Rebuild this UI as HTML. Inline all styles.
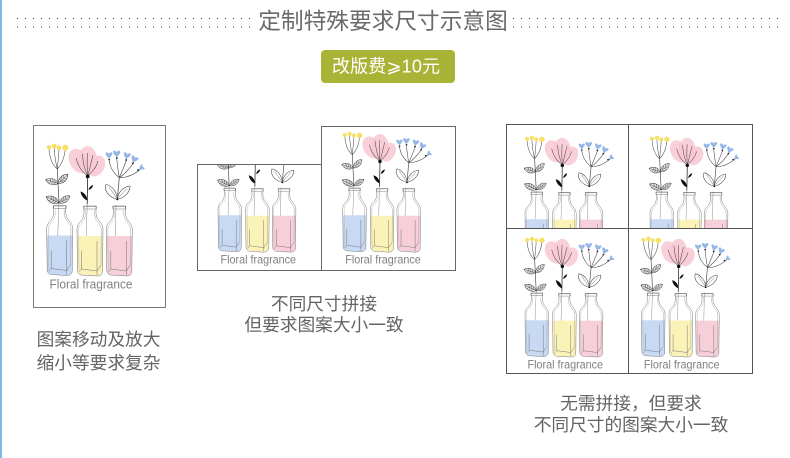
<!DOCTYPE html>
<html lang="zh">
<head>
<meta charset="utf-8">
<title>定制特殊要求尺寸示意图</title>
<style>
html,body{margin:0;padding:0;background:#fff;width:790px;height:458px;overflow:hidden}
svg{display:block}
.cap{font-family:"Liberation Sans","Noto Sans CJK SC",sans-serif;font-size:17.7px;fill:#646464;text-anchor:middle}
.lab{font-family:"Liberation Sans",sans-serif;font-size:13px;fill:#808080}
</style>
</head>
<body>
<svg width="790" height="458" viewBox="0 0 790 458" xmlns="http://www.w3.org/2000/svg">
<defs>
<filter id="soft" x="-5%" y="-5%" width="110%" height="110%"><feGaussianBlur stdDeviation=".28"/></filter>
<pattern id="dots" x="17" y="18" width="8" height="8.4" patternUnits="userSpaceOnUse"><rect width="1" height="1" fill="#333"/></pattern>
<path id="heart" d="M0 3 C-1 .6 -3.6 -.4 -3.4 -3 C-2.6 -4.2 -1 -3.6 0 -2.2 C1 -3.6 2.6 -4.2 3.4 -3 C3.6 -.4 1 .6 0 3Z" fill="#96b6e8"/>
<g id="leaf" fill="none" stroke="#333" stroke-width=".5">
<path d="M0 0C4 -4.2 10 -4.2 14 0C10 4.2 4 4.2 0 0Z" fill="#e4e4e4"/>
<path d="M0 0H14M3 0L5 -2.6M5.5 0L7.5 -3M8 0L10 -2.6M3 0L5 2.6M5.5 0L7.5 3M8 0L10 2.6" stroke-width=".4"/>
</g>
<g id="bottle">
<path d="M.2 31H25.8L25.5 66Q25 71 20 71L4 69.5Q1 69 .5 66Z"/>
<g fill="none" stroke="#707070" stroke-width=".5">
<path d="M7 1.5V9Q6.5 14 2 18Q0 20 0 24L.5 66Q1 69 4 70L20 71Q25 71 25.5 67L26 24Q26 20 23 17Q19.5 13.5 19 9V1.5Z"/>
<path d="M6.5 1H19.5V4H6.5Z"/>
<path d="M8.5 5V10Q8 15 3.5 19Q1.6 21 1.6 24.5L2 65" stroke="#b5b5b5"/>
<path d="M17.5 5V10Q18 14 21.5 18Q24 20.5 24.2 24L24 60" stroke="#a0a0a0"/>
<path d="M4.5 46V64L20 66L24 60M4.5 64L2 67M20 66L20 70"/>
<path d="M20 36V66"/>
</g>
</g>
<g id="art" filter="url(#soft)">
<!-- yellow flower -->
<g fill="none" stroke="#444" stroke-width=".55">
<path d="M57.3 169C52 165 49 156 49 147.3M57.3 169C55 160 54.3 152 54.3 146M57.3 169C58 160 59 154 59 147.7M57.3 169C62 164 65 156 65.3 147.7"/>
<path d="M57.3 169L59 203" stroke-width=".7"/>
<path d="M59 203L57.3 248" stroke="#888" stroke-width=".5"/>
</g>
<g fill="#f6e067"><circle cx="49" cy="147.3" r="2.3"/><circle cx="54.3" cy="146" r="2.4"/><circle cx="59" cy="147.7" r="2.3"/><circle cx="65.3" cy="147.7" r="3"/></g>
<use href="#leaf" transform="translate(58.3 183.5) rotate(197) scale(.95)"/>
<use href="#leaf" transform="translate(58.3 183.5) rotate(-44) scale(.95)"/>
<use href="#leaf" transform="translate(59 203) rotate(206) scale(1.02)"/>
<use href="#leaf" transform="translate(59.5 203) rotate(-34) scale(.9)"/>
<!-- pink flower -->
<g fill="#f8c8d4" fill-opacity=".85">
<ellipse cx="78.5" cy="161" rx="9" ry="13" transform="rotate(-28 78.5 161)"/>
<ellipse cx="87.5" cy="160" rx="9.5" ry="14"/>
<ellipse cx="96.5" cy="166" rx="8" ry="11" transform="rotate(28 96.5 166)"/>
</g>
<g fill="none" stroke="#444" stroke-width=".55">
<path d="M87.7 176C80 170 78 165 76 158M87.7 176C84 168 83 162 82.5 154M87.7 176C87 168 87 160 87.5 153M87.7 176C90 168 91 162 93 155M87.7 176C92 172 96 168 98 161"/>
<path d="M87.7 176L87.2 204" stroke="#222" stroke-width=".8"/>
<path d="M87.2 204L86 247" stroke="#888" stroke-width=".5"/>
</g>
<circle cx="87.7" cy="176.4" r="1.9" fill="#111"/>
<path d="M87.5 200.5C84 199.5 81 195.5 80.5 191.5C84.5 192.5 87 196 87.5 200.5Z" fill="#111"/>
<path d="M88.5 190C89 187.5 91 185.5 93 185C92.8 187.5 90.8 189.5 88.5 190Z" fill="#111"/>
<!-- blue flower -->
<g fill="none" stroke="#444" stroke-width=".6">
<path d="M119.3 177.7C112 172 109.5 165 109 159M119.3 177.7C118 170 117 164 116.7 157M119.3 177.7C122 171 125 165 126.7 159M119.3 177.7C125 174 130 168 134 162M119.3 177.7C127 178 135 174 140.7 169"/>
<path d="M119.3 177.7L117.3 199.3" stroke-width=".7"/>
<path d="M117.3 199.3C108 197 104 190 106 184.5C112 185.5 117 192 117.3 199.3Z M117.3 199.3C118 193 123 186.5 130 186C130.5 192 124 198 117.3 199.3Z" fill="#fff"/>
<path d="M109 187L116.5 198M127 188.5L118 198" stroke-width=".4"/>
<path d="M116 205L115 248" stroke="#888" stroke-width=".5"/>
</g>
<circle cx="117.3" cy="199.3" r="1" fill="#111"/>
<use href="#heart" transform="translate(109 156) scale(1)"/>
<use href="#heart" transform="translate(116.7 154.5) scale(1.05)"/>
<use href="#heart" transform="translate(126.7 156.5) rotate(12) scale(1.05)"/>
<use href="#heart" transform="translate(134 160) rotate(25) scale(1.05)"/>
<use href="#heart" transform="translate(141 168) rotate(55) scale(.8)"/>
<g fill="#222"><circle cx="109.2" cy="159.5" r=".9"/><circle cx="116.8" cy="158" r=".9"/><circle cx="126.2" cy="160" r=".9"/><circle cx="132.8" cy="163.5" r=".9"/><circle cx="138" cy="170" r=".9"/></g>
<!-- bottles -->
<use href="#bottle" x="46.7" y="204.5" fill="#c8d9f3"/>
<use href="#bottle" x="77" y="205" fill="#fbf2b8"/>
<use href="#bottle" x="106.3" y="205" fill="#f6cfd9"/>
</g>
<clipPath id="c1"><rect x="197" y="164" width="124" height="107"/></clipPath>
<clipPath id="c2"><rect x="506" y="125" width="122" height="103"/></clipPath>
<clipPath id="c3"><rect x="628" y="125" width="124" height="103"/></clipPath>
</defs>

<rect x="0" y="0" width="2" height="458" fill="#7cbbe3"/>

<!-- header -->
<rect x="17" y="18" width="233" height="10" fill="url(#dots)"/>
<rect x="513" y="18" width="265" height="10" fill="url(#dots)"/>
<text x="383" y="29" text-anchor="middle" font-family="'Liberation Sans','Noto Sans CJK SC',sans-serif" font-size="22.7" fill="#6a6a6a">定制特殊要求尺寸示意图</text>

<rect x="321" y="50" width="134" height="33" rx="4" fill="#a9b336"/>
<text x="386" y="72.5" text-anchor="middle" font-family="'Liberation Sans','Noto Sans CJK SC',sans-serif" font-size="18" fill="#fff" textLength="108">改版费⩾10元</text>

<!-- panel 1 -->
<rect x="33.5" y="125.5" width="132" height="182" fill="#fff" stroke="#777"/>
<use href="#art"/>
<text class="lab" x="49.5" y="288.5" textLength="83" lengthAdjust="spacingAndGlyphs">Floral fragrance</text>

<!-- panel 2 -->
<rect x="197.5" y="164.5" width="124" height="106" fill="#fff" stroke="#666"/>
<g clip-path="url(#c1)"><g transform="translate(175.5 1) scale(.91)"><use href="#art"/><text class="lab" x="49.5" y="288.5" textLength="83" lengthAdjust="spacingAndGlyphs">Floral fragrance</text></g></g>
<rect x="321.5" y="126.5" width="134" height="144" fill="#fff" stroke="#666"/>
<g transform="translate(300.2 1) scale(.91)"><use href="#art"/><text class="lab" x="49.5" y="288.5" textLength="83" lengthAdjust="spacingAndGlyphs">Floral fragrance</text></g>
<rect x="197.5" y="164.5" width="124" height="106" fill="none" stroke="#666"/>

<!-- panel 3 -->
<g clip-path="url(#c2)"><g transform="translate(482.5 4.9) scale(.91)"><use href="#art"/></g></g>
<g clip-path="url(#c3)"><g transform="translate(607.5 4.9) scale(.91)"><use href="#art"/></g></g>
<g transform="translate(482.5 105.9) scale(.91)"><use href="#art"/><text class="lab" x="49.5" y="288.5" textLength="83" lengthAdjust="spacingAndGlyphs">Floral fragrance</text></g>
<g transform="translate(598.9 105.9) scale(.91)"><use href="#art"/><text class="lab" x="49.5" y="288.5" textLength="83" lengthAdjust="spacingAndGlyphs">Floral fragrance</text></g>
<g fill="none" stroke="#555"><rect x="506.5" y="124.5" width="246" height="249"/><path d="M628.5 125V373M507 228.5H752"/></g>

<!-- captions -->
<text class="cap" x="98.5" y="345.5">图案移动及放大</text>
<text class="cap" x="98.5" y="369">缩小等要求复杂</text>
<text class="cap" x="324" y="310">不同尺寸拼接</text>
<text class="cap" x="324" y="331">但要求图案大小一致</text>
<text class="cap" x="631" y="409.5">无需拼接，但要求</text>
<text class="cap" x="631" y="431">不同尺寸的图案大小一致</text>
</svg>
</body>
</html>
